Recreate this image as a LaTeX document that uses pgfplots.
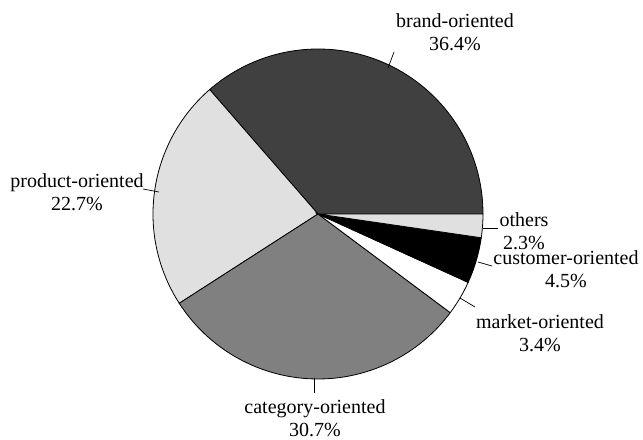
\documentclass[border=0pt]{standalone}
\usepackage{pgfplots}
\usepackage{pgfplotstable}
\pgfplotsset{compat=1.18}
\usepackage{fontspec}
\setmainfont{Liberation Serif}

\definecolor{cbrand}{HTML}{404040}
\definecolor{cproduct}{HTML}{E0E0E0}
\definecolor{ccategory}{HTML}{808080}
\definecolor{cmarket}{HTML}{FFFFFF}
\definecolor{ccustomer}{HTML}{000000}
\definecolor{cothers}{HTML}{E0E0E0}

% share of each slice, counterclockwise from 3 o'clock
\pgfplotstableread{
label     value colour
brand     36.4  cbrand
product   22.7  cproduct
category  30.7  ccategory
market    3.4   cmarket
customer  4.5   ccustomer
others    2.3   cothers
}\piedata

\begin{document}
\begin{tikzpicture}[font=\fontsize{20bp}{23bp}\selectfont]
\begin{axis}[
    hide axis,
    scale only axis,
    x=1bp, y=1bp,
    xmin=0, xmax=643,
    ymin=0, ymax=440,
    clip=false,
]
    \def\cum{0}
    \pgfplotsforeachungrouped \i in {0,...,5}{
        \pgfplotstablegetelem{\i}{value}\of\piedata
        \let\val\pgfplotsretval
        \pgfplotstablegetelem{\i}{colour}\of\piedata
        \let\col\pgfplotsretval
        \pgfmathsetmacro\a{\cum*3.6}
        \pgfmathsetmacro\b{(\cum+\val)*3.6}
        \pgfmathsetmacro\cum{\cum+\val}
        \edef\tmp{\noexpand\filldraw[fill=\col, draw=black, line width=0.8bp]
            (axis cs:318,226) -- ++(\a:165bp)
            arc[start angle=\a, end angle=\b, radius=165bp] -- cycle;}
        \tmp
    }

    % leader lines
    \draw[line width=0.7bp] (axis cs:388,372) -- (axis cs:394,388);
    \draw[line width=0.7bp] (axis cs:143,251) -- (axis cs:159,248);
    \draw[line width=0.7bp] (axis cs:483,212) -- (axis cs:498,212);
    \draw[line width=0.7bp] (axis cs:478,178) -- (axis cs:492,174);
    \draw[line width=0.7bp] (axis cs:460,142) -- (axis cs:475,133);
    \draw[line width=0.7bp] (axis cs:314,62) -- (axis cs:314,47);

    % labels
    \node[align=center, inner sep=0] at (axis cs:455,408) {brand-oriented\\36.4\%};
    \node[align=center, inner sep=0] at (axis cs:77,248) {product-oriented\\22.7\%};
    \node[align=center, inner sep=0] at (axis cs:524,209) {others\\2.3\%};
    \node[align=center, inner sep=0] at (axis cs:566,170.5) {customer-oriented\\4.5\%};
    \node[align=center, inner sep=0] at (axis cs:540,106.5) {market-oriented\\3.4\%};
    \node[align=center, inner sep=0] at (axis cs:315,22) {category-oriented\\30.7\%};
\end{axis}
\pgfresetboundingbox
\path (0,0) rectangle (643bp,440bp);
\end{tikzpicture}
\end{document}
